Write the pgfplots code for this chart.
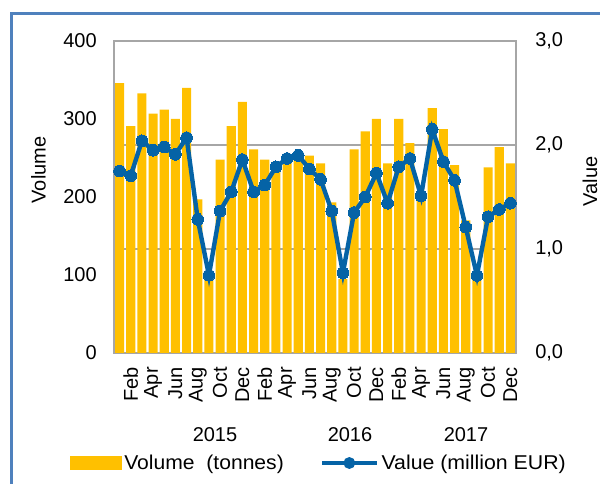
\documentclass[border=0pt]{standalone}
\usepackage{pgfplots}
\pgfplotsset{compat=1.18}
\usepackage{pgfplotstable}
\usepackage{graphicx}
\usepackage{fontspec}
\setmainfont{Liberation Sans}
\definecolor{barc}{HTML}{FFC000}
\definecolor{linec}{HTML}{0563A6}
\definecolor{gridc}{HTML}{A6A6A6}
\definecolor{framec}{HTML}{4F81BD}
\newcommand\cf{\fontsize{15pt}{17pt}\selectfont}

\pgfplotstableread{
m vol val
1 346 1.75
2 291 1.705
3 333 2.04
4 307 1.95
5 312 1.98
6 300 1.91
7 340 2.07
8 197 1.285
9 95 0.747
10 248 1.365
11 291 1.55
12 322 1.86
13 261 1.55
14 248 1.615
15 245 1.79
16 252 1.87
17 255 1.90
18 253 1.77
19 243 1.67
20 193 1.365
21 95 0.77
22 261 1.35
23 284 1.50
24 300 1.73
25 243 1.44
26 300 1.79
27 269 1.87
28 205 1.51
29 314 2.15
30 287 1.84
31 241 1.66
32 170 1.21
33 95 0.745
34 238 1.31
35 264 1.38
36 243 1.44
}\data

\begin{document}
\begin{tikzpicture}
\useasboundingbox (0,0) rectangle (450pt,363pt);
\draw[framec, line width=2.25pt] (8.6pt,-2pt) -- (8.6pt,352.5pt) -- (452pt,352.5pt);
\begin{axis}[
  at={(85.5pt,98.25pt)}, anchor=south west,
  scale only axis, width=301.5pt, height=234pt,
  xmin=0.5, xmax=36.5, ymin=0, ymax=400,
  ytick={0,100,200,300,400},
  extra y ticks={133.333,266.667}, extra y tick labels={},
  extra y tick style={grid=major, major grid style={gridc, line width=1.1pt}},
  xtick={2,4,...,36},
  xticklabels={Feb,Apr,Jun,Aug,Oct,Dec,Feb,Apr,Jun,Aug,Oct,Dec,Feb,Apr,Jun,Aug,Oct,Dec},
  xticklabel style={rotate=90, anchor=east, inner sep=0pt},
  xticklabel shift=10.5pt,
  yticklabel style={anchor=east, inner sep=0pt},
  yticklabel shift=12.75pt,
  major tick length=0pt,
  axis line style={gridc, line width=1.1pt},
  tick label style={font=\cf},
  /pgf/number format/assume math mode=true,
  ybar, bar width=0.82,
]
\addplot[fill=barc, draw=none] table[x=m,y=vol]{\data};
\end{axis}
\begin{axis}[
  at={(85.5pt,98.25pt)}, anchor=south west,
  scale only axis, width=301.5pt, height=234pt,
  xmin=0.5, xmax=36.5, ymin=0, ymax=3,
  axis y line*=right, axis x line=none,
  ytick={0,1,2,3},
  yticklabel style={anchor=west, inner sep=0pt, /pgf/number format/.cd, fixed, fixed zerofill, precision=1, use comma},
  yticklabel shift=14.25pt,
  major tick length=0pt,
  axis line style={gridc, line width=1.1pt},
  tick label style={font=\cf},
  /pgf/number format/assume math mode=true,
  legend style={at={(-0.109,-0.3526)}, anchor=west, draw=none, fill=none,
    legend columns=2, font=\cf, inner sep=0pt,
    /tikz/every even column/.append style={column sep=25pt}},
]
\addlegendimage{legend image code/.code={\fill[barc] (0pt,-5pt) rectangle (38pt,5pt);}}
\addlegendentry{\scalebox{1.055}[1]{Volume\ \ (tonnes)}}
\addplot[linec, line width=3.3pt, mark=*, mark size=4.4pt, mark options={fill=linec, draw=linec, line width=0pt},
  legend image code/.code={\draw[linec, line width=3.3pt] (0pt,0pt) -- (41pt,0pt); \fill[linec] (20.5pt,0pt) circle (2.7pt);}]
  table[x=m,y=val]{\data};
\addlegendentry{\scalebox{1.065}[1]{Value (million EUR)}}
\end{axis}
\node[font=\cf] at (161.25pt,36.75pt) {2015};
\node[font=\cf] at (262.5pt,36.75pt) {2016};
\node[font=\cf] at (349.5pt,36.75pt) {2017};
\node[rotate=90, font=\cf] at (28.9pt,235.5pt) {Volume};
\node[rotate=90, font=\cf] at (442.5pt,227pt) {Value};
\end{tikzpicture}
\end{document}
